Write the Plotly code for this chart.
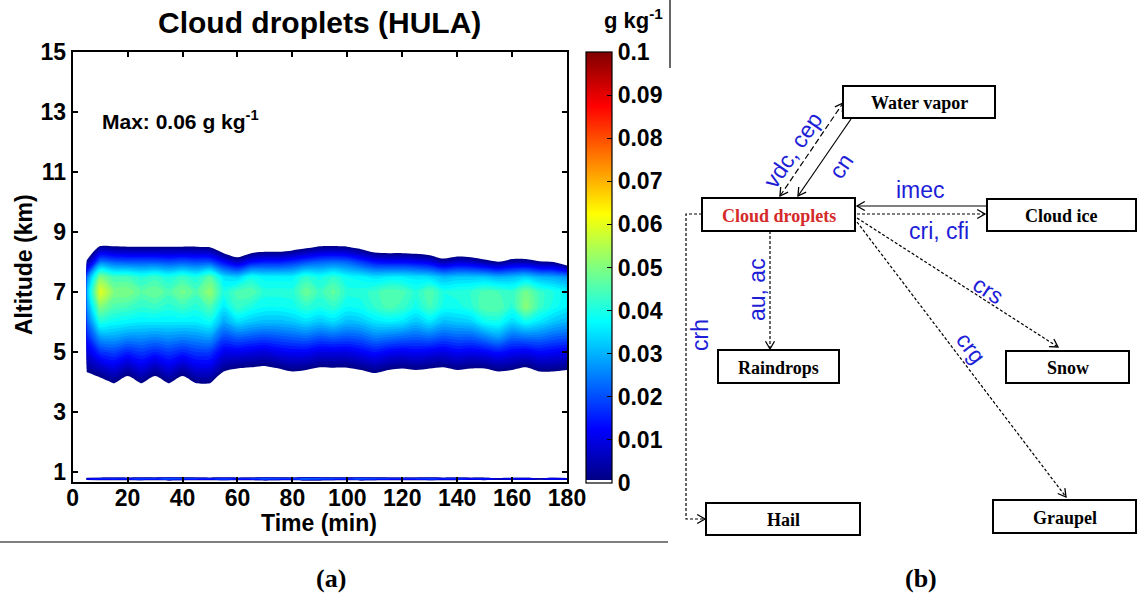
import math
import plotly.graph_objects as go

W, H = 1138, 602

# ---------------- data (cloud droplet mixing ratio, 1e-3 g/kg) ----------------
time_min = [5, 10, 15, 20, 25, 30, 35, 40, 45, 50, 55, 60, 65, 70, 75, 80, 85, 90,
            95, 100, 105, 110, 115, 120, 125, 130, 135, 140, 145, 150, 155, 160,
            165, 170, 175, 180]

# altitudes of the profile rows (km)
profile_alt_km = [3.5, 4.0, 4.5, 5.0, 5.5, 6.0, 6.5, 7.0, 7.5, 8.0, 8.5, 9.0]

# one profile per output time (values below 0 = no cloud)
cloud_profiles = [
    [-15, -6, 3, 9, 15, 21, 26, 29, 23, 2, -20, -30],      # 5
    [-15, -3, 7, 17, 28, 40, 50, 60, 50, 24, 2, -20],      # 10
    [-10, 1, 10, 19, 29, 38, 45, 50, 44, 22, 1, -20],      # 15
    [-15, -4, 6, 16, 27, 37, 44, 50, 44, 21, 0.5, -20],    # 20
    [-10, 1, 10, 18, 27, 36, 42, 46, 41, 21, 0.5, -20],    # 25
    [-15, -4, 6, 16, 26, 36, 43, 48, 43, 21, 0.5, -20],    # 30
    [-10, 1, 10, 18, 27, 36, 41, 45, 40, 20, 0.5, -20],    # 35
    [-15, -4, 6, 16, 26, 36, 43, 49, 43, 21, 0.5, -20],    # 40
    [-10, 1, 10, 18, 27, 36, 41, 45, 40, 20, 0.5, -20],    # 45
    [-10, 1, 10, 18, 28, 38, 45, 52, 46, 20, -0.5, -20],   # 50
    [-15, -7, 3, 11, 20, 29, 36, 40, 35, 13, -9, -25],     # 55
    [-15, -9, 1, 11, 22, 34, 43, 45, 33, 7, -15, -30],     # 60
    [-15, -10, 0.2, 10, 21, 32, 40, 46, 39, 13, -9, -25],  # 65
    [-15, -11, -0.6, 9, 20, 31, 38, 41, 37, 15, -7, -25],  # 70
    [-15, -9, 1, 11, 21, 31, 38, 41, 37, 15, -7, -25],     # 75
    [-15, -7, 3, 12, 22, 32, 39, 41, 37, 17, -5, -25],     # 80
    [-15, -8, 2, 12, 23, 34, 42, 48, 42, 20, -2, -25],     # 85
    [-15, -10, 0.2, 10, 21, 32, 40, 43, 39, 22, 0.9, -20], # 90
    [-15, -10, 0.5, 10, 22, 34, 42, 47, 42, 23, 1.3, -20], # 95
    [-15, -10, 0.5, 10, 21, 31, 38, 41, 38, 22, 0.5, -20], # 100
    [-15, -8, 2, 12, 22, 32, 39, 41, 37, 18, -3, -25],     # 105
    [-15, -6, 4, 14, 25, 35, 42, 43, 35, 14, -8, -25],     # 110
    [-15, -8, 2, 12, 24, 36, 45, 46, 36, 13, -9, -25],     # 115
    [-15, -9, 1, 11, 23, 35, 43, 45, 36, 13, -9, -25],     # 120
    [-15, -8, 2, 12, 22, 32, 39, 41, 35, 12, -10, -25],    # 125
    [-15, -9, 1, 11, 23, 35, 44, 46, 34, 10, -12, -25],    # 130
    [-15, -10, 0.2, 10, 21, 31, 39, 40, 31, 5, -17, -30],  # 135
    [-15, -8, 2, 12, 22, 32, 39, 41, 32, 8, -14, -30],     # 140
    [-15, -9, 1, 11, 22, 33, 41, 42, 32, 7, -15, -30],     # 145
    [-15, -9, 1, 12, 25, 38, 46, 45, 32, 3.5, -18, -30],   # 150
    [-15, -7, 3, 14, 28, 39, 46, 44, 30, 0.5, -21, -30],   # 155
    [-15, -8, 2, 12, 23, 34, 41, 42, 31, 4.4, -18, -30],   # 160
    [-15, -10, 0.2, 11, 24, 38, 51, 49, 33, 4.4, -18, -30],# 165
    [-15, -7, 3, 13, 24, 35, 43, 43, 30, 1.3, -21, -30],   # 170
    [-15, -7, 3, 12, 22, 32, 39, 40, 29, 0.3, -22, -30],   # 175
    [-15, -8, 2, 11, 21, 30, 36, 37, 27, -8, -25, -35],    # 180
]

# thin near-surface layer (~0.77 km)
surface_alt_km = [0.68, 0.77, 0.86]
surface_band = [14, 18, 20, 18, 22, 20, 24, 22, 20, 18, 22, 18, 20, 24, 22, 20, 26, 24,
                22, 20, 24, 22, 20, 18, 20, 22, 18, 20, 16, 18, 10, 14, 16, 8, 16, 12]
no_cloud = -20

x_ticks = [0, 20, 40, 60, 80, 100, 120, 140, 160, 180]
y_ticks = [1, 3, 5, 7, 9, 11, 13, 15]
cb_ticks = [0, 0.01, 0.02, 0.03, 0.04, 0.05, 0.06, 0.07, 0.08, 0.09, 0.1]
cb_labels = ["0", "0.01", "0.02", "0.03", "0.04", "0.05", "0.06", "0.07", "0.08", "0.09", "0.1"]

# ---------------- build grid ----------------
alts = surface_alt_km + profile_alt_km
z = [[no_cloud / 1000.0] * len(time_min),
     [v / 1000.0 for v in surface_band],
     [no_cloud / 1000.0] * len(time_min)]
for r in range(len(profile_alt_km)):
    z.append([cloud_profiles[c][r] / 1000.0 for c in range(len(time_min))])

# ---------------- colours ----------------
JET = [(0.0, (0, 0, 131)), (0.125, (0, 0, 255)), (0.375, (0, 255, 255)),
       (0.625, (255, 255, 0)), (0.875, (255, 0, 0)), (1.0, (128, 0, 0))]


def rgb(c):
    return "rgb(%d,%d,%d)" % c


CS = 0.002
START, END = 0.0, 0.1
DMIN, DMAX = START - CS / 2, START + 51 * CS - CS / 2


def frac(v):
    return (v - DMIN) / (DMAX - DMIN)


contour_scale = [[0.0, "white"], [frac(0) - 0.0005, "white"]]
for f, c in JET:
    contour_scale.append([frac(f * 0.1), rgb(c)])
contour_scale.append([1.0, rgb(JET[-1][1])])

cb_scale = [[0.0, "white"], [0.006, "white"], [0.0061, rgb(JET[0][1])]]
for f, c in JET[1:]:
    cb_scale.append([f, rgb(c)])

# ---------------- geometry helpers (pixel -> paper) ----------------
def px(x):
    return x / W


def py(y):
    return 1 - y / H


X0, X1 = 72.7, 567.0
Y0, Y1 = 52.0, 482.0

fig = go.Figure()

fig.add_trace(go.Contour(
    x=time_min, y=alts, z=z,
    autocontour=False,
    contours=dict(start=START, end=END, size=CS, coloring="fill", showlines=False),
    line=dict(width=0, smoothing=0.8),
    colorscale=contour_scale,
    showscale=False,
    hoverinfo="skip",
))

fig.add_trace(go.Scatter(
    x=[None], y=[None], mode="markers", hoverinfo="skip", showlegend=False,
    marker=dict(color=[0], cmin=0, cmax=0.1, colorscale=cb_scale, showscale=True,
                colorbar=dict(
                    thickness=26, thicknessmode="pixels",
                    len=(483 - 52) / H, lenmode="fraction",
                    x=px(586), xanchor="left", y=py(483), yanchor="bottom",
                    xpad=0, ypad=0, outlinewidth=1.2, outlinecolor="black",
                    tickvals=cb_ticks, ticktext=cb_labels,
                    ticks="inside", ticklen=5, tickcolor="black",
                    tickfont=dict(family="Liberation Sans, Arial", size=23,
                                  color="black", weight="bold"),
                )),
))

axfont = dict(family="Liberation Sans, Arial", size=23, color="black", weight="bold")
fig.update_layout(
    width=W, height=H, margin=dict(l=0, r=0, t=0, b=0, pad=0, autoexpand=False),
    paper_bgcolor="white", plot_bgcolor="white", showlegend=False,
    xaxis=dict(domain=[px(X0), px(X1)], range=[0, 180], tickvals=x_ticks,
               ticks="inside", ticklen=5, tickwidth=1.5, tickcolor="black",
               showline=True, linewidth=2, linecolor="black", mirror="ticks",
               showgrid=False, zeroline=False, tickfont=axfont, automargin=False,
               ticklabelstandoff=-6),
    yaxis=dict(domain=[py(Y1), py(Y0)], range=[0.667, 15], tickvals=y_ticks,
               ticks="inside", ticklen=5, tickwidth=1.5, tickcolor="black",
               showline=True, linewidth=2, linecolor="black", mirror="ticks",
               showgrid=False, zeroline=False, tickfont=axfont, automargin=False),
)

ann = []


def text(x, y, s, size, color="black", bold=True, family="Liberation Sans, Arial",
         angle=0, xanchor="center"):
    ann.append(dict(x=px(x), y=py(y), xref="paper", yref="paper", text=s,
                    showarrow=False, textangle=angle, xanchor=xanchor, yanchor="middle",
                    font=dict(family=family, size=size, color=color,
                              weight="bold" if bold else "normal")))


# panel (a) texts
text(319, 22, "Cloud droplets (HULA)", 30)
text(633, 19, "g kg<sup>-1</sup>", 22)
text(100, 120, "Max: 0.06 g kg<sup>-1</sup>", 21, xanchor="left")
text(319, 523, "Time (min)", 23)
text(24, 265, "Altitude (km)", 23, angle=-90)
text(331, 578, "(a)", 26, family="Liberation Serif, Times New Roman")
text(921, 578, "(b)", 26, family="Liberation Serif, Times New Roman")

shapes = []
# separator lines
shapes.append(dict(type="line", xref="paper", yref="paper", x0=px(0), y0=py(542),
                   x1=px(668), y1=py(542), line=dict(color="black", width=1.2)))
shapes.append(dict(type="line", xref="paper", yref="paper", x0=px(670), y0=py(0),
                   x1=px(670), y1=py(68), line=dict(color="black", width=1.2)))

# panel (b) boxes
SERIF = "Liberation Serif, Times New Roman"
boxes = [
    ("Water vapor", 843, 86, 995, 118, "black"),
    ("Cloud droplets", 702, 198, 855, 231, "#d42a2a"),
    ("Cloud ice", 987, 199, 1136, 231, "black"),
    ("Raindrops", 718, 350, 839, 383, "black"),
    ("Snow", 1006, 351, 1129, 383, "black"),
    ("Hail", 706, 503, 860, 535, "black"),
    ("Graupel", 993, 500, 1136, 533, "black"),
]
for name, x0, y0, x1, y1, col in boxes:
    shapes.append(dict(type="rect", xref="paper", yref="paper", x0=px(x0), y0=py(y1),
                       x1=px(x1), y1=py(y0), line=dict(color="black", width=2),
                       fillcolor="white"))
    text((x0 + x1) / 2, (y0 + y1) / 2 + 1, name, 18, color=col, family=SERIF)


def seg(pts, dash):
    path = "M " + " L ".join("%f,%f" % (px(x), py(y)) for x, y in pts)
    shapes.append(dict(type="path", xref="paper", yref="paper", path=path,
                       line=dict(color="black", width=1.2, dash=dash)))


def head(tip, frm, size=9, ang=30):
    dx, dy = tip[0] - frm[0], tip[1] - frm[1]
    L = math.hypot(dx, dy)
    ux, uy = dx / L, dy / L
    pts = []
    for s in (1, -1):
        a = math.radians(ang) * s
        rx = ux * math.cos(a) - uy * math.sin(a)
        ry = ux * math.sin(a) + uy * math.cos(a)
        pts.append((tip[0] - size * rx, tip[1] - size * ry))
    path = "M %f,%f L %f,%f L %f,%f" % (px(pts[0][0]), py(pts[0][1]), px(tip[0]),
                                        py(tip[1]), px(pts[1][0]), py(pts[1][1]))
    shapes.append(dict(type="path", xref="paper", yref="paper", path=path,
                       line=dict(color="black", width=1.3)))


LONGDASH = "6px,3px"
DOT = "3px,2px"
# vdc, cep (two-way, dashed)
seg([(780, 196), (843, 103)], LONGDASH)
head((780, 196), (843, 103))
head((843, 103), (780, 196))
# cn
seg([(851, 119), (798, 196)], "solid")
head((798, 196), (851, 119))
# imec
seg([(986, 206), (857, 206)], "solid")
head((857, 206), (986, 206))
# cri, cfi
seg([(857, 214), (985, 214)], DOT)
head((985, 214), (857, 214))
# au, ac
seg([(770, 231), (770, 349)], DOT)
head((770, 349), (770, 231))
# crh
seg([(702, 214), (686, 214), (686, 519), (705, 519)], DOT)
head((705, 519), (686, 519))
# crs
seg([(857, 218), (1058, 347)], DOT)
head((1058, 347), (857, 218))
# crg
seg([(857, 222), (1066, 497)], DOT)
head((1066, 497), (857, 222))

BLUE = "rgb(30,30,215)"
SANS = "Liberation Sans, Arial"
text(793, 150, "vdc, cep", 23, color=BLUE, bold=False, family=SANS, angle=-56)
text(841, 166, "cn", 23, color=BLUE, bold=False, family=SANS, angle=-56)
text(920, 190, "imec", 23, color=BLUE, bold=False, family=SANS)
text(939, 231, "cri, cfi", 23, color=BLUE, bold=False, family=SANS)
text(757, 290, "au, ac", 23, color=BLUE, bold=False, family=SANS, angle=-90)
text(700, 335, "crh", 23, color=BLUE, bold=False, family=SANS, angle=-90)
text(988, 290, "crs", 23, color=BLUE, bold=False, family=SANS, angle=33)
text(971, 348, "crg", 23, color=BLUE, bold=False, family=SANS, angle=53)

fig.update_layout(annotations=ann, shapes=shapes)
fig.write_html("out.html")
